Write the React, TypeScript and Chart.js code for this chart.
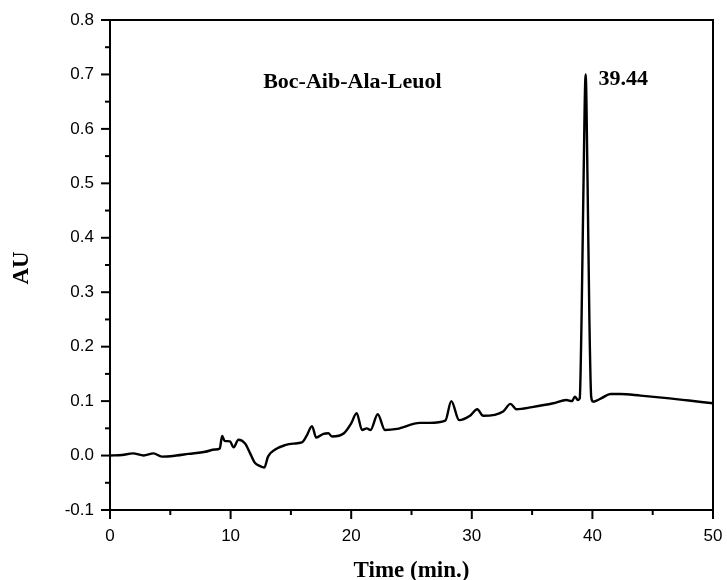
import React, { useEffect, useRef } from "react";
import { Chart, registerables } from "chart.js";

Chart.register(...registerables);

// Retention time (min.)
const times: number[] = [
  0, 1.0, 1.9, 2.8, 3.6, 4.3, 5.5, 6.5, 7.9, 8.7, 9.1, 9.3, 9.5, 9.95, 10.25,
  10.65, 11.2, 11.6, 12.0, 12.4, 12.8, 13.1, 13.7, 14.5, 15.2, 15.9, 16.3,
  16.75, 17.1, 17.7, 18.1, 18.4, 19.4, 20.0, 20.45, 20.9, 21.3, 21.6, 22.2,
  22.8, 23.8, 25.7, 26.5, 27.8, 28.3, 28.95, 29.85, 30.45, 30.95, 32.6, 33.2,
  33.7, 35.0, 36.75, 37.85, 38.3, 38.55, 38.8, 38.95, 39.1, 39.25, 39.44, 39.6,
  39.75, 39.9, 40.05, 40.35, 40.8, 41.5, 42.3, 44.0, 46.4, 48.0, 50,
];

// Absorbance (AU)
const absorbance: number[] = [
  0.0, 0.001, 0.004, 0.0, 0.004, -0.002, 0.0, 0.003, 0.007, 0.011, 0.013,
  0.036, 0.027, 0.026, 0.015, 0.029, 0.022, 0.005, -0.013, -0.019, -0.022,
  -0.002, 0.011, 0.019, 0.022, 0.024, 0.036, 0.054, 0.033, 0.04, 0.041, 0.035,
  0.041, 0.059, 0.078, 0.047, 0.05, 0.047, 0.076, 0.047, 0.049, 0.06, 0.06,
  0.064, 0.1, 0.065, 0.073, 0.085, 0.073, 0.081, 0.095, 0.085, 0.089, 0.096,
  0.102, 0.1, 0.108, 0.102, 0.105, 0.25, 0.48, 0.7, 0.5, 0.25, 0.108, 0.099,
  0.101, 0.106, 0.113, 0.113, 0.11, 0.105, 0.101, 0.096,
];

const xTickValues: number[] = [0, 5, 10, 15, 20, 25, 30, 35, 40, 45, 50];
const yTickValues: number[] = [
  -0.1, -0.05, 0, 0.05, 0.1, 0.15, 0.2, 0.25, 0.3, 0.35, 0.4, 0.45, 0.5, 0.55,
  0.6, 0.65, 0.7, 0.75, 0.8,
];

const xTitle = "Time (min.)";
const yTitle = "AU";
const compoundLabel = "Boc-Aib-Ala-Leuol";
const peakLabel = "39.44";

const isMajorX = (v: number) => Math.abs(v / 10 - Math.round(v / 10)) < 1e-6;
const isMajorY = (v: number) => Math.abs(v * 10 - Math.round(v * 10)) < 1e-6;

const decorPlugin = {
  id: "decor",
  afterDraw(chart: any) {
    const { ctx, chartArea, scales } = chart;
    const xs = scales.x;
    const ys = scales.y;
    ctx.save();
    ctx.strokeStyle = "#000";
    ctx.lineWidth = 2;
    ctx.lineCap = "butt";
    ctx.strokeRect(chartArea.left, chartArea.top, chartArea.right - chartArea.left, chartArea.bottom - chartArea.top);
    xTickValues.forEach((v) => {
      const px = xs.getPixelForValue(v);
      const len = isMajorX(v) ? 9 : 5;
      ctx.beginPath();
      ctx.moveTo(px, chartArea.bottom);
      ctx.lineTo(px, chartArea.bottom + len);
      ctx.stroke();
    });
    yTickValues.forEach((v) => {
      const py = ys.getPixelForValue(v);
      const len = isMajorY(v) ? 9 : 5;
      ctx.beginPath();
      ctx.moveTo(chartArea.left, py);
      ctx.lineTo(chartArea.left - len, py);
      ctx.stroke();
    });
    ctx.fillStyle = "#000";
    ctx.font = "bold 23px 'Liberation Serif', 'Times New Roman', serif";
    ctx.textAlign = "center";
    ctx.textBaseline = "alphabetic";
    ctx.fillText(xTitle, (chartArea.left + chartArea.right) / 2, 577);
    ctx.save();
    ctx.translate(28, (chartArea.top + chartArea.bottom) / 2 + 3);
    ctx.rotate(-Math.PI / 2);
    ctx.fillText(yTitle, 0, 0);
    ctx.restore();
    ctx.font = "bold 22px 'Liberation Serif', 'Times New Roman', serif";
    ctx.textAlign = "left";
    ctx.fillText(compoundLabel, xs.getPixelForValue(12.7), ys.getPixelForValue(0.675));
    ctx.fillText(peakLabel, xs.getPixelForValue(40.5), ys.getPixelForValue(0.681));
    ctx.restore();
  },
};

export default function App() {
  const canvasRef = useRef<HTMLCanvasElement | null>(null);

  useEffect(() => {
    if (!canvasRef.current) return;
    const points = times.map((t, i) => ({ x: t, y: absorbance[i] }));
    const tickFont = { family: "'Liberation Sans', Arial, sans-serif", size: 17 };
    const chart = new Chart(canvasRef.current, {
      type: "line",
      data: {
        datasets: [
          {
            data: points,
            borderColor: "#000",
            borderWidth: 2.4,
            pointRadius: 0,
            fill: false,
            cubicInterpolationMode: "monotone",
          },
        ],
      },
      plugins: [decorPlugin],
      options: {
        animation: false,
        responsive: true,
        maintainAspectRatio: false,
        layout: { padding: { top: 20, right: 14, left: 0, bottom: 0 } },
        plugins: { legend: { display: false }, tooltip: { enabled: false } },
        scales: {
          x: {
            type: "linear",
            min: 0,
            max: 50,
            grid: { display: false },
            border: { display: false },
            afterFit: (s: any) => {
              s.height = 70;
              s.paddingLeft = 0;
              s.paddingRight = 0;
            },
            afterBuildTicks: (s: any) => {
              s.ticks = xTickValues.map((v) => ({ value: v }));
            },
            ticks: {
              autoSkip: false,
              maxRotation: 0,
              padding: 8,
              color: "#000",
              font: tickFont,
              callback: (v: any) => (isMajorX(Number(v)) ? String(Math.round(Number(v))) : ""),
            },
          },
          y: {
            type: "linear",
            min: -0.1,
            max: 0.8,
            grid: { display: false },
            border: { display: false },
            afterFit: (s: any) => {
              s.width = 110;
              s.paddingTop = 0;
              s.paddingBottom = 0;
            },
            afterBuildTicks: (s: any) => {
              s.ticks = yTickValues.map((v) => ({ value: v }));
            },
            ticks: {
              autoSkip: false,
              padding: 8,
              color: "#000",
              font: tickFont,
              callback: (v: any) => (isMajorY(Number(v)) ? Number(v).toFixed(1) : ""),
            },
          },
        },
      },
    });
    return () => chart.destroy();
  }, []);

  return (
    <div style={{ position: "fixed", left: 0, top: 0, width: 727, height: 580, background: "#fff" }}>
      <canvas ref={canvasRef} />
    </div>
  );
}
